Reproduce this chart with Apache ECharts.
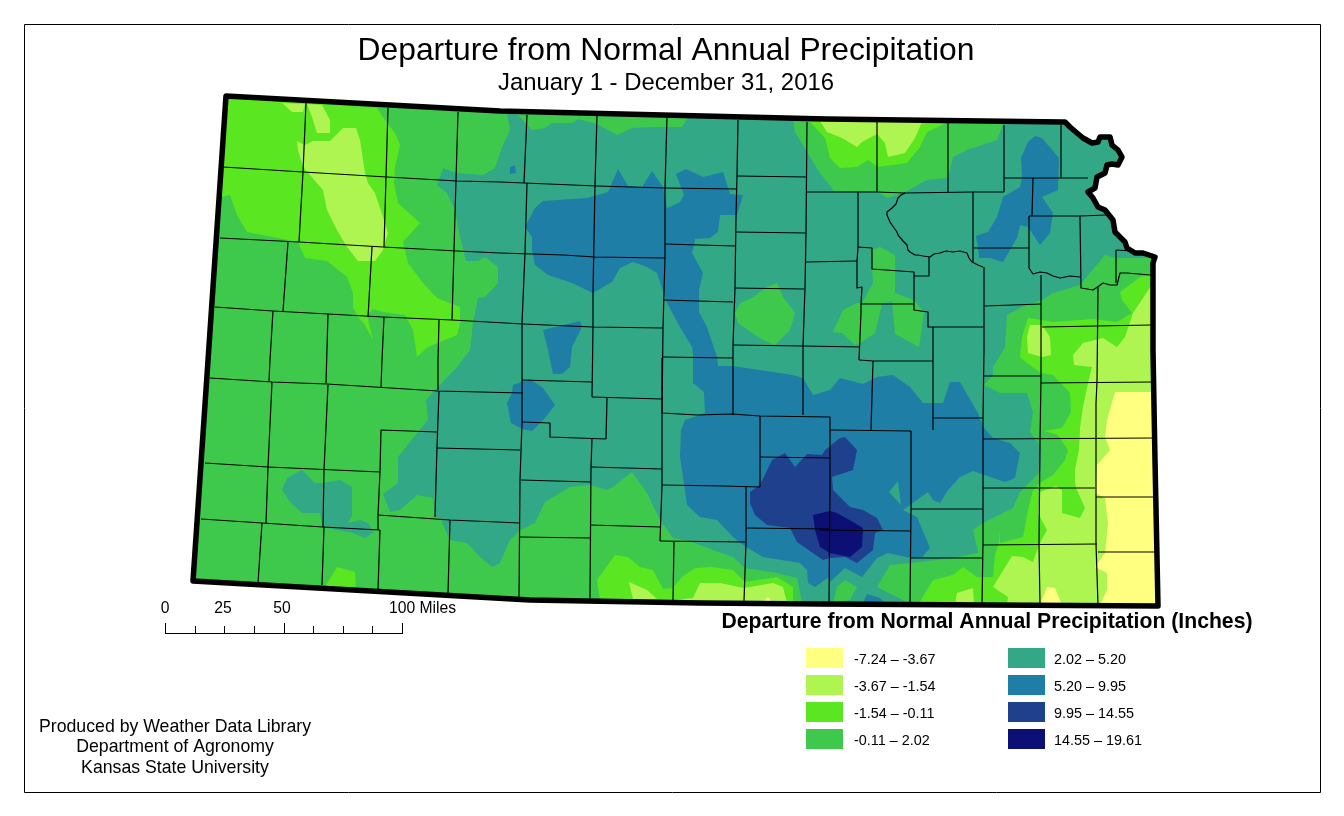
<!DOCTYPE html>
<html>
<head>
<meta charset="utf-8">
<title>Departure from Normal Annual Precipitation</title>
<style>
html, body { margin: 0; padding: 0; background: #fff; }
#main { width: 1344px; height: 816px; }
</style>
<script src="https://cdn.jsdelivr.net/npm/echarts@6/dist/echarts.min.js"></script>
</head>
<body>
<div id="main"></div>
<script>
// legend
var legendLabels = ['-7.24 – -3.67', '-3.67 – -1.54', '-1.54 – -0.11', '-0.11 – 2.02', '2.02 – 5.20', '5.20 – 9.95', '9.95 – 14.55', '14.55 – 19.61'];
var legendColors = ['#FFFF80', '#AEF552', '#5AE620', '#3FC94C', '#33A886', '#1F7EA6', '#1F408C', '#0C0F73'];
var scaleMiles = [0, 12.5, 25, 37.5, 50, 62.5, 75, 87.5, 100];
var scaleLabels = ['0', '25', '50', '100 Miles'];
var creditLines = ['Produced by Weather Data Library', 'Department of Agronomy', 'Kansas State University'];

// state border, map coordinates
var borderNorth = [[226,96],[500,111],[826,119],[1063,122]];
var borderRiver = [[1065,122],[1070,127],[1077,133],[1083,138],[1092,143],[1098,142],[1100,137],[1110,137],[1112,145],[1118,150],[1122,157],[1118,165],[1112,164],[1107,165],[1105,173],[1097,177],[1095,188],[1088,192],[1093,198],[1098,207],[1105,210],[1113,220],[1115,232],[1125,242],[1127,248],[1135,253],[1143,253],[1155,257],[1153,263]];
var borderEast = [[1153,350],[1155,460],[1158,606]];
var borderSouth = [[820,604],[700,603],[530,600],[193,581]];

// contour bands, -1.54 - -0.11
var bandGreen = [
  [[228,97],[377,108],[385,120],[395,133],[400,145],[395,167],[394,183],[398,203],[420,223],[403,242],[408,263],[423,283],[437,298],[460,307],[460,323],[457,335],[428,347],[417,357],[413,330],[405,315],[383,312],[373,309],[367,315],[373,340],[365,325],[358,317],[353,307],[353,293],[347,277],[327,261],[305,258],[298,242],[247,232],[237,215],[230,195],[221,197]],
  [[325,587],[337,567],[355,572],[356,590]],
  [[808,120],[825,138],[830,158],[840,168],[857,167],[868,160],[878,167],[907,163],[920,147],[927,132],[948,122]],
  [[1153,275],[1140,277],[1120,292],[1122,300],[1132,313],[1117,322],[1093,319],[1053,322],[1042,320],[1028,318],[1022,337],[1020,357],[1027,363],[1041,373],[1041,482],[1033,490],[1028,510],[1023,537],[1000,543],[999,530],[999,543],[995,555],[993,577],[977,577],[963,567],[953,575],[933,580],[927,590],[918,605],[1157,606]],
  [[597,580],[615,555],[628,557],[640,567],[653,570],[663,589],[673,588],[682,577],[695,568],[712,567],[733,570],[745,582],[777,577],[793,587],[793,602],[600,600]]
];
// -3.67 - -1.54
var bandLight = [
  [[282,103],[305,104],[303,112],[292,112]],
  [[307,104],[322,105],[330,120],[330,133],[317,133],[312,117]],
  [[330,141],[343,128],[356,128],[360,140],[365,173],[368,183],[375,193],[385,223],[388,233],[383,250],[375,261],[358,261],[347,247],[337,230],[327,210],[323,190],[303,167],[298,150],[297,141],[305,145],[313,141]],
  [[820,121],[827,132],[842,138],[857,147],[862,142],[877,134],[885,143],[888,157],[905,153],[915,138],[922,122]],
  [[1153,283],[1133,313],[1125,337],[1117,347],[1103,338],[1083,343],[1073,355],[1074,365],[1092,367],[1088,383],[1083,407],[1080,428],[1079,450],[1075,470],[1075,482],[1076,488],[1085,508],[1080,518],[1062,513],[1062,490],[1056,486],[1040,492],[1038,513],[1047,530],[1039,545],[1033,562],[1023,557],[1012,556],[993,587],[1008,597],[1007,605],[1157,606]],
  [[1027,337],[1030,325],[1042,325],[1050,337],[1051,355],[1042,357],[1028,353]],
  [[955,605],[957,593],[973,588],[974,605]],
  [[629,582],[647,590],[657,599],[633,599]],
  [[675,600],[693,598],[700,583],[720,583],[744,588],[773,583],[783,587],[787,603]]
];
// -7.24 - -3.67
var bandYellow = [
  [[1115,392],[1154,392],[1157,606],[1100,605],[1107,590],[1107,573],[1095,567],[1105,553],[1108,523],[1105,498],[1095,493],[1097,465],[1110,450],[1105,437],[1107,420]],
  [[1040,605],[1047,587],[1055,588],[1062,605]],
  [[763,602],[768,597],[772,602]]
];
// -0.11 - 2.02 patches lying on top of the other bands
var bandMid = [
  [[1041,373],[1053,375],[1070,393],[1071,412],[1062,428],[1044,431],[1058,435],[1068,450],[1065,460],[1053,475],[1041,482]],
  [[735,313],[740,303],[752,298],[767,287],[777,283],[783,297],[795,313],[790,330],[775,345],[763,340],[748,330],[738,323]],
  [[833,332],[843,310],[857,303],[862,303],[873,283],[872,267],[872,250],[880,247],[895,255],[895,293],[914,300],[924,312],[919,347],[895,334],[892,301],[882,304],[875,333],[860,343],[855,345],[842,333]],
  [[833,603],[837,587],[845,580],[857,587],[850,600]]
];
// 2.02 - 5.20
var bandTeal = [
  [[507,113],[518,115],[532,130],[545,128],[552,123],[572,123],[578,119],[597,124],[617,135],[632,128],[657,127],[682,127],[688,117],[793,120],[795,132],[807,152],[820,173],[835,192],[857,191],[877,192],[888,198],[905,192],[927,180],[948,178],[953,157],[967,150],[997,140],[1003,124],[1063,122]].concat(borderRiver, [[1155,258],[1116,258],[1105,255],[1080,285],[1053,293],[1042,300],[1022,307],[1007,315],[1005,347],[993,367],[993,375],[984,385],[1000,393],[1027,393],[1033,412],[1030,432],[1040,445],[1042,452],[1040,472],[1020,492],[1013,508],[983,523],[973,530],[978,553],[953,558],[911,563],[890,565],[877,587],[903,600],[909,605],[802,603],[797,578],[777,573],[745,568],[733,557],[713,550],[692,542],[673,538],[660,520],[647,493],[632,472],[613,487],[607,490],[590,485],[570,487],[545,502],[535,523],[520,530],[510,540],[500,563],[492,567],[480,557],[467,543],[450,540],[440,518],[435,517],[433,498],[417,495],[400,510],[390,512],[383,494],[398,483],[398,457],[417,433],[428,420],[426,400],[438,387],[457,367],[470,350],[473,323],[478,298],[485,297],[498,283],[498,267],[485,257],[478,261],[466,261],[460,237],[455,210],[447,193],[437,185],[443,168],[457,173],[483,175],[495,168],[502,147],[510,130]]),
  [[287,478],[302,470],[315,483],[323,483],[340,480],[352,487],[352,515],[348,523],[360,520],[368,523],[374,532],[365,538],[353,533],[327,528],[322,525],[320,513],[302,513],[290,502],[282,490]]
];
// 5.20 - 9.95
var bandBlue = [
  [[525,227],[535,208],[543,201],[587,198],[608,192],[618,169],[628,186],[642,187],[652,171],[663,187],[667,208],[670,207],[680,202],[684,195],[676,174],[686,169],[703,177],[723,172],[730,194],[743,195],[737,215],[720,215],[718,232],[710,238],[695,239],[694,246],[692,253],[703,273],[699,290],[699,312],[707,327],[717,357],[718,366],[733,366],[793,375],[803,378],[813,395],[830,390],[840,378],[863,384],[877,377],[893,375],[910,387],[923,403],[943,403],[950,382],[960,382],[978,413],[983,427],[993,438],[1010,443],[1020,453],[1015,478],[1005,482],[993,478],[973,471],[960,477],[948,490],[940,503],[933,500],[928,492],[903,510],[917,517],[930,548],[922,557],[911,558],[888,553],[877,558],[862,577],[845,568],[830,582],[829,577],[815,587],[808,583],[807,570],[800,563],[763,557],[746,547],[733,537],[717,520],[700,517],[687,505],[683,477],[680,457],[681,430],[685,420],[697,416],[705,413],[704,392],[693,383],[693,353],[692,347],[680,327],[667,303],[665,297],[657,273],[647,267],[633,262],[620,268],[612,282],[593,293],[572,283],[548,275],[535,265],[532,250],[532,237]],
  [[510,167],[515,165],[516,173],[510,174]],
  [[543,330],[580,321],[582,327],[572,347],[570,367],[562,374],[553,374],[548,350]],
  [[512,393],[513,385],[530,379],[543,388],[555,405],[545,418],[532,431],[522,429],[511,423],[507,403]],
  [[1035,136],[1042,138],[1059,158],[1058,190],[1042,197],[1053,213],[1050,233],[1040,245],[1032,233],[1028,227],[1020,225],[1017,238],[1003,262],[990,258],[979,258],[978,248],[976,236],[988,232],[997,217],[1003,197],[1020,187],[1022,178],[1021,158],[1028,142]],
  [[863,603],[867,594],[880,598],[885,603]]
];
// teal hole inside the blue
var bandTealHole = [
  [[889,492],[898,481],[901,505]]
];
// 9.95 - 14.55
var bandDark = [
  [[750,492],[760,485],[772,460],[785,453],[795,467],[807,454],[822,455],[825,450],[840,438],[845,437],[857,450],[853,470],[832,477],[833,490],[850,507],[863,510],[877,518],[883,530],[875,533],[873,550],[857,563],[845,557],[830,558],[823,560],[797,542],[790,528],[767,525],[755,515],[750,503]]
];
// 14.55 - 19.61
var bandNavy = [
  [[813,515],[830,511],[837,513],[853,522],[863,528],[862,547],[850,557],[830,553],[820,547],[815,530]]
];

// county lines
var countyLines = [
  [[223,167],[303,172],[387,177],[457,181],[500,182],[597,186],[665,188],[737,189]],
  [[737,176],[807,177]],
  [[807,192],[858,192],[877,192],[905,193],[973,192],[1004,192]],
  [[1004,178],[1088,178]],
  [[220,238],[299,242],[383,247],[457,251],[500,253],[563,255],[595,257],[665,258]],
  [[665,244],[735,246]],[[736,232],[806,233]],[[806,262],[857,261]],
  [[215,307],[273,311],[328,314],[383,317],[452,320],[523,324],[593,327],[663,328]],
  [[663,300],[733,302]],[[735,288],[804,289]],
  [[733,345],[803,346],[860,347]],[[663,357],[733,358]],
  [[306,103],[303,172],[299,242]],[[288,242],[283,311]],[[273,311],[270,360],[269,381]],
  [[372,247],[368,317]],[[388,108],[386,177],[384,247]],
  [[458,112],[456,180],[454,250],[452,320]],
  [[527,115],[524,183]],[[527,183],[525,253],[522,323],[522,380],[522,423],[520,480],[519,597]],
  [[597,115],[595,185],[593,293],[593,327],[592,397]],
  [[667,117],[665,188],[665,257],[663,328],[662,413],[662,485],[660,541]],
  [[738,120],[737,175],[736,217],[735,288],[733,345],[733,415]],
  [[807,122],[806,233],[805,288],[803,346],[803,415]],
  [[877,122],[877,192]],[[948,123],[948,192]],[[1004,125],[1004,192]],[[1061,125],[1061,178]],
  [[858,192],[858,247],[857,261],[857,288],[862,287],[861,304],[861,313],[859,360]],
  [[858,247],[872,248],[872,269],[914,272],[914,310],[928,312],[928,327],[933,327],[984,327]],
  [[914,276],[929,276],[929,257]],
  [[861,304],[914,304]],
  [[905,193],[901,195],[898,198],[896,204],[892,208],[887,212],[887,215],[890,222],[892,225],[897,232],[898,235],[903,241],[907,245],[908,250],[910,252],[915,255],[918,255],[923,256],[930,257],[934,254],[940,253],[946,251],[953,252],[960,251],[967,253],[969,258],[972,262],[978,265],[983,267]],
  [[973,192],[973,262]],[[974,248],[1029,248]],
  [[1033,178],[1032,216]],[[1029,216],[1029,268],[1033,274],[1040,272],[1047,273],[1053,276],[1060,278],[1070,276],[1080,277]],
  [[1029,216],[1080,216],[1107,215]],[[1080,216],[1081,288],[1093,290],[1099,286],[1103,283],[1110,285],[1117,285],[1120,273],[1127,273],[1150,275]],
  [[1116,250],[1116,283]],[[1116,250],[1133,251]],
  [[984,267],[984,350],[983,418],[983,543],[982,605]],
  [[984,306],[1041,304]],[[1041,275],[1041,380],[1040,440],[1039,545],[1040,605]],
  [[1098,287],[1097,382],[1096,403],[1096,544],[1098,605]],
  [[1042,327],[1151,325]],[[933,327],[933,430]],
  [[859,360],[873,361],[895,361],[933,361]],[[873,361],[871,430]],
  [[984,376],[1041,376]],
  [[1041,383],[1152,382]],[[983,439],[1153,438]],[[983,488],[1095,488]],[[983,545],[1097,544]],
  [[1096,497],[1154,497]],[[1098,552],[1155,552]],
  [[933,418],[983,418]],[[830,430],[911,431]],[[911,431],[911,508],[910,605]],
  [[911,509],[983,509]],[[911,558],[982,558]],
  [[820,530],[910,531]],[[746,528],[830,529]],
  [[662,358],[662,413],[697,415],[732,414],[760,416],[830,417],[830,490],[829,603]],
  [[760,416],[760,487]],[[760,457],[830,458]],
  [[746,487],[746,542],[744,601]],[[662,485],[723,486],[760,487]],
  [[660,541],[745,542]],[[674,542],[673,600]],
  [[522,380],[592,382]],[[592,397],[662,399]],
  [[607,398],[606,439]],[[522,422],[550,423],[550,437],[606,439]],
  [[592,439],[591,467],[590,598]],[[591,467],[662,469]],[[521,480],[591,482]],
  [[590,525],[660,527]],[[520,537],[590,538]],
  [[437,448],[520,450]],[[378,515],[450,520],[520,523]],
  [[210,378],[272,382],[327,384],[438,391],[523,393]],
  [[328,314],[326,383]],[[384,317],[382,360],[381,387]],[[439,320],[438,360],[438,390]],
  [[272,382],[268,467],[266,523]],[[328,385],[324,470],[323,527]],
  [[205,463],[268,467],[380,472],[381,430],[437,432]],
  [[439,391],[437,447],[435,517]],
  [[380,472],[378,515],[378,530]],[[450,520],[448,593]],
  [[201,519],[262,523],[323,527],[380,530]],
  [[262,523],[258,583]],[[324,527],[322,585]],[[380,530],[378,590]]
];

var stateOutline = borderNorth.concat(borderRiver, borderEast, borderSouth);

function areaSeries(polys, color) {
  return {
    type: 'custom',
    coordinateSystem: 'cartesian2d',
    silent: true,
    clip: false,
    data: polys.map(function (p, i) { return [i]; }),
    renderItem: function (params, api) {
      return {
        type: 'polygon',
        shape: { points: polys[params.dataIndex].map(function (p) { return api.coord(p); }) },
        style: { fill: color, stroke: null }
      };
    }
  };
}

function lineSeries(lines, width, closed) {
  return {
    type: 'custom',
    coordinateSystem: 'cartesian2d',
    silent: true,
    clip: false,
    data: lines.map(function (p, i) { return [i]; }),
    renderItem: function (params, api) {
      return {
        type: closed ? 'polygon' : 'polyline',
        shape: { points: lines[params.dataIndex].map(function (p) { return api.coord(p); }) },
        style: { fill: null, stroke: '#000', lineWidth: width, lineJoin: 'round' }
      };
    }
  };
}

var FONT = '"Liberation Sans", Arial, sans-serif';
var graphics = [
  { type: 'rect', shape: { x: 24.5, y: 24.5, width: 1296, height: 768 }, style: { fill: null, stroke: '#000', lineWidth: 1 }, silent: true },
  { type: 'text', style: { text: 'Departure from Normal Annual Precipitation (Inches)', x: 987, y: 622, textAlign: 'center', textVerticalAlign: 'middle', font: 'bold 21.2px ' + FONT, fill: '#000' } }
];

legendLabels.forEach(function (label, i) {
  var col = i < 4 ? 0 : 1;
  var row = i % 4;
  graphics.push({ type: 'rect', shape: { x: 806 + col * 202, y: 648 + row * 27, width: 37, height: 20 }, style: { fill: legendColors[i] }, silent: true });
  graphics.push({ type: 'text', style: { text: label, x: 854 + col * 200, y: 660 + row * 27, textVerticalAlign: 'middle', font: '14.4px ' + FONT, fill: '#000' } });
});

// scale bar, 100 miles = 237 px
scaleMiles.forEach(function (m, i) {
  var x = Math.round(165 + m * 2.37) + 0.5;
  graphics.push({ type: 'line', shape: { x1: x, y1: i % 4 === 0 ? 623 : 626, x2: x, y2: 633 }, style: { stroke: '#000', lineWidth: 1 }, silent: true });
});
graphics.push({ type: 'line', shape: { x1: 165, y1: 633.5, x2: 403, y2: 633.5 }, style: { stroke: '#000', lineWidth: 1 }, silent: true });
[165, 223, 282].forEach(function (x, i) {
  graphics.push({ type: 'text', style: { text: scaleLabels[i], x: x, y: 609, textAlign: 'center', textVerticalAlign: 'middle', font: '15.7px ' + FONT, fill: '#000' } });
});
graphics.push({ type: 'text', style: { text: scaleLabels[3], x: 389, y: 609, textVerticalAlign: 'middle', font: '15.7px ' + FONT, fill: '#000' } });

creditLines.forEach(function (line, i) {
  graphics.push({ type: 'text', style: { text: line, x: 175, y: 727 + i * 20.5, textAlign: 'center', textVerticalAlign: 'middle', font: '17.7px ' + FONT, fill: '#000' } });
});

var chart = echarts.init(document.getElementById('main'), null, { renderer: 'canvas' });
chart.setOption({
  animation: false,
  backgroundColor: '#fff',
  title: {
    text: 'Departure from Normal Annual Precipitation',
    subtext: 'January 1 - December 31, 2016',
    left: 661, top: 30, textAlign: 'center', itemGap: 4,
    textStyle: { fontFamily: 'Liberation Sans', fontSize: 31.8, fontWeight: 'normal', color: '#000' },
    subtextStyle: { fontFamily: 'Liberation Sans', fontSize: 23.9, color: '#000' }
  },
  grid: { left: 0, right: 0, top: 0, bottom: 0 },
  xAxis: { type: 'value', min: 0, max: 1344, show: false },
  yAxis: { type: 'value', min: 0, max: 816, inverse: true, show: false },
  graphic: graphics,
  series: [
    areaSeries([stateOutline], legendColors[3]),
    areaSeries(bandTeal, legendColors[4]),
    areaSeries(bandGreen, legendColors[2]),
    areaSeries(bandMid, legendColors[3]),
    areaSeries(bandLight, legendColors[1]),
    areaSeries(bandYellow, legendColors[0]),
    areaSeries(bandBlue, legendColors[5]),
    areaSeries(bandTealHole, legendColors[4]),
    areaSeries(bandDark, legendColors[6]),
    areaSeries(bandNavy, legendColors[7]),
    lineSeries(countyLines, 1.2, false),
    lineSeries([stateOutline], 5.5, true)
  ]
});
</script>
</body>
</html>
